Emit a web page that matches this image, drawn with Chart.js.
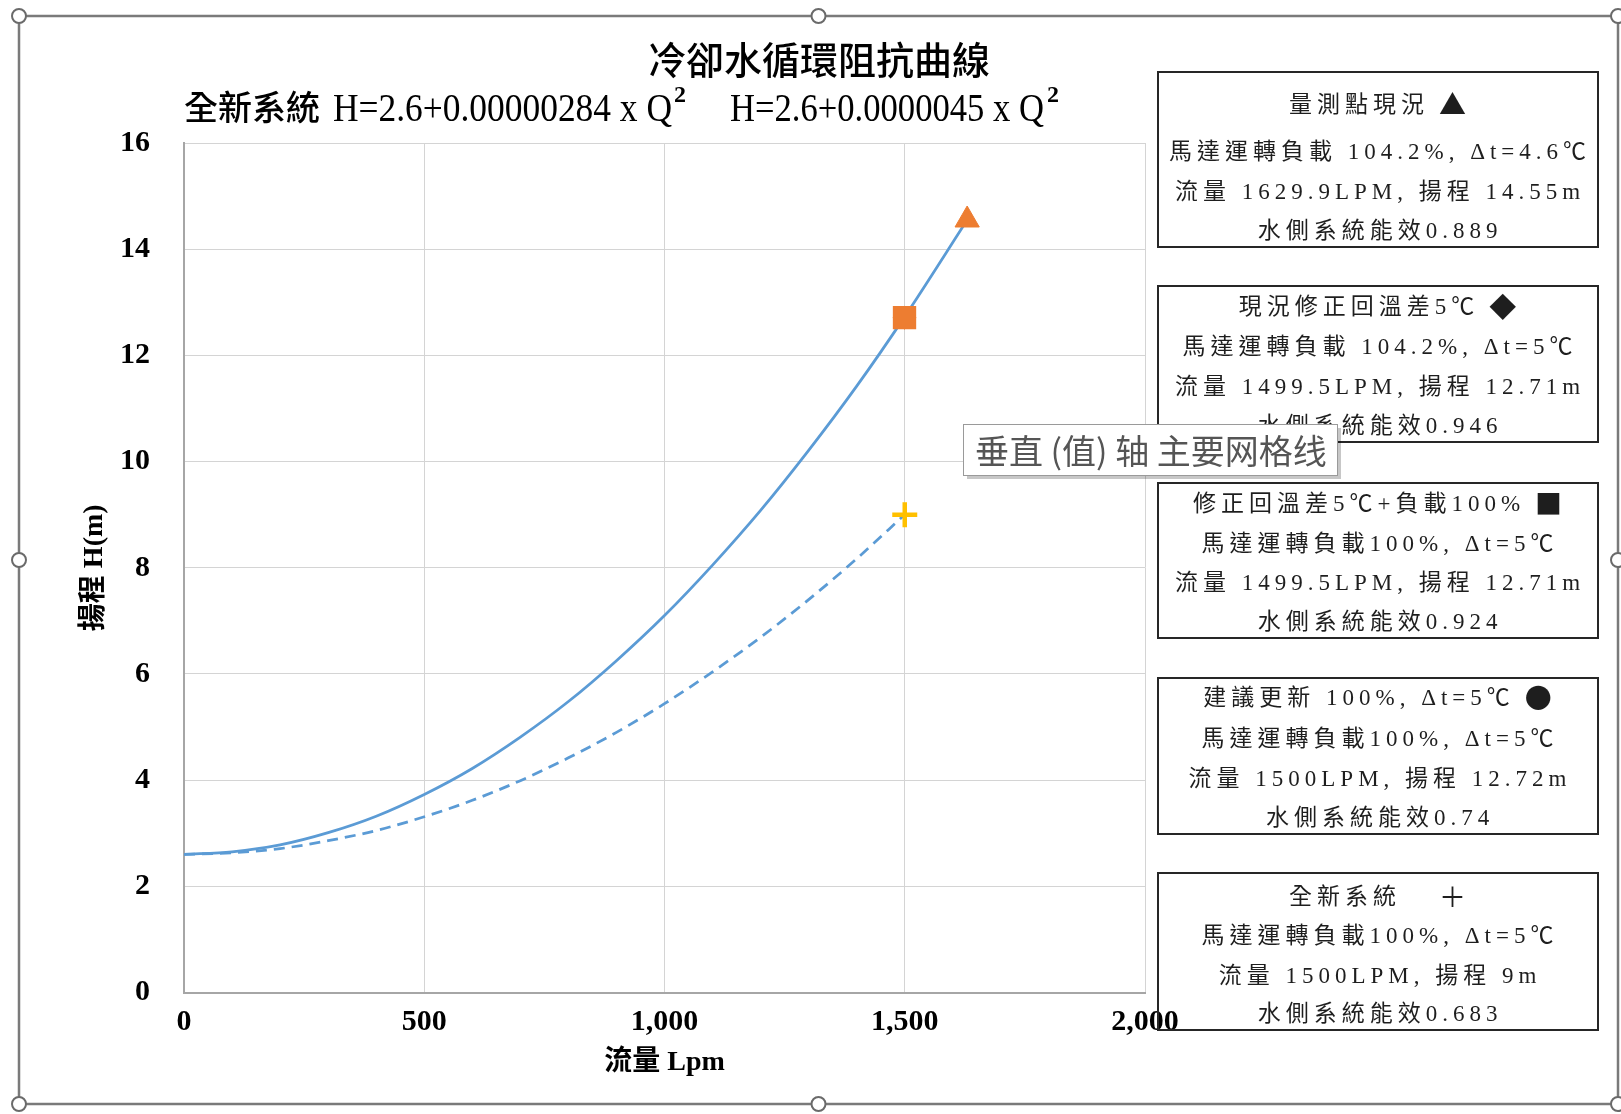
<!DOCTYPE html>
<html>
<head>
<meta charset="utf-8">
<title>冷卻水循環阻抗曲線</title>
<script src="https://cdn.jsdelivr.net/npm/chart.js@4/dist/chart.umd.min.js"></script>
<style>
  html, body { margin: 0; padding: 0; background: #ffffff; }
  #wrap { width: 1621px; height: 1114px; position: relative; }
</style>
</head>
<body>
<div id="wrap"><canvas id="c" width="1621" height="1114"></canvas></div>
<script>
// Existing system curve: H = 2.6 + 0.0000045 x Q^2 (solid)
const flowSolid = [0, 100, 200, 300, 400, 500, 600, 700, 800, 900, 1000, 1100, 1200, 1300, 1400, 1500, 1629.9];
const headSolid = [2.60, 2.65, 2.78, 3.01, 3.32, 3.73, 4.22, 4.81, 5.48, 6.25, 7.10, 8.05, 9.08, 10.21, 11.42, 12.73, 14.55];

// New system curve: H = 2.6 + 0.00000284 x Q^2 (dashed)
const flowDashed = [0, 100, 200, 300, 400, 500, 600, 700, 800, 900, 1000, 1100, 1200, 1300, 1400, 1500];
const headDashed = [2.60, 2.63, 2.71, 2.86, 3.05, 3.31, 3.62, 3.99, 4.42, 4.90, 5.44, 6.04, 6.69, 7.40, 8.17, 9.00];

// Operating points
const markerFlow = [1629.9, 1499.5, 1499.5, 1500, 1500];
const markerHead = [14.55, 12.71, 12.71, 12.72, 9];

// Axis ticks
const xTicks = [0, 500, 1000, 1500, 2000];
const yTicks = [0, 2, 4, 6, 8, 10, 12, 14, 16];

// Annotation boxes
const boxTitles = ['量測點現況', '現況修正回溫差5℃', '修正回溫差5℃+負載100%', '建議更新 100%, Δt=5℃', '全新系統　'];
const boxSymbols = ['▲', '◆', '■', '●', '＋'];
const boxLoad = ['馬達運轉負載 104.2%, Δt=4.6℃', '馬達運轉負載 104.2%, Δt=5℃', '馬達運轉負載100%, Δt=5℃', '馬達運轉負載100%, Δt=5℃', '馬達運轉負載100%, Δt=5℃'];
const boxFlowHead = ['流量 1629.9LPM, 揚程 14.55m', '流量 1499.5LPM, 揚程 12.71m', '流量 1499.5LPM, 揚程 12.71m', '流量 1500LPM, 揚程 12.72m', '流量 1500LPM, 揚程 9m'];
const boxEff = ['水側系統能效0.889', '水側系統能效0.946', '水側系統能效0.924', '水側系統能效0.74', '水側系統能效0.683'];

const BLUE = '#5B9BD5';
const ORANGE = '#ED7D31';
const GOLD = '#FFC000';

const toXY = (xs, ys) => xs.map((x, i) => ({ x: x, y: ys[i] }));
const onePoint = (i) => [{ x: markerFlow[i], y: markerHead[i] }];

// Frame, title, formulas, annotation boxes
const decorations = {
  id: 'decorations',
  afterDraw(chart) {
    const ctx = chart.ctx;
    ctx.save();

    // title
    ctx.fillStyle = '#000';
    ctx.textAlign = 'center';
    ctx.textBaseline = 'middle';
    ctx.font = '500 38px "Noto Sans CJK TC"';
    ctx.fillText('冷卻水循環阻抗曲線', 819, 60, 346);

    // formulas line
    ctx.textAlign = 'left';
    ctx.textBaseline = 'alphabetic';
    ctx.font = '500 34px "Noto Sans CJK TC"';
    ctx.fillText('全新系統', 184, 120, 139);
    ctx.font = '40px "Liberation Serif"';
    ctx.fillText('H=2.6+0.00000284 x Q', 333, 121, 339);
    ctx.fillText('H=2.6+0.0000045 x Q', 730, 121, 314);
    ctx.font = 'bold 24px "Liberation Serif"';
    ctx.fillText('2', 674, 102);
    ctx.fillText('2', 1047, 102);

    // annotation boxes
    const boxes = [
      { top: 72, bottom: 247, rows: [106, 153, 193, 232] },
      { top: 286, bottom: 442, rows: [308, 348, 388, 427] },
      { top: 483, bottom: 638, rows: [505, 545, 584, 623] },
      { top: 678, bottom: 834, rows: [699, 740, 780, 819] },
      { top: 873, bottom: 1030, rows: [898, 937, 977, 1015] }
    ];
    const bl = 1158, br = 1598, bc = (bl + br) / 2;
    const textFont = '23px "Liberation Serif", "Noto Sans CJK TC"';
    const symFont = '27px "Noto Sans CJK TC"';
    ctx.strokeStyle = '#262626';
    ctx.lineWidth = 2;
    ctx.fillStyle = '#1e1e1e';
    ctx.textBaseline = 'middle';
    ctx.letterSpacing = '5px';
    boxes.forEach((b, i) => {
      ctx.strokeRect(bl, b.top, br - bl, b.bottom - b.top);
      // heading with its marker symbol
      ctx.font = textFont;
      const tw = ctx.measureText(boxTitles[i]).width;
      ctx.font = symFont;
      const sw = ctx.measureText(boxSymbols[i]).width;
      const gap = 10;
      const start = bc + 2 - (tw + gap + sw) / 2;
      ctx.textAlign = 'left';
      ctx.font = textFont;
      ctx.fillText(boxTitles[i], start, b.rows[0]);
      ctx.font = symFont;
      ctx.fillText(boxSymbols[i], start + tw + gap, b.rows[0] - 1);
      // remaining rows
      ctx.textAlign = 'center';
      ctx.font = textFont;
      [boxLoad[i], boxFlowHead[i], boxEff[i]].forEach((t, k) => ctx.fillText(t, bc + 2, b.rows[k + 1], br - bl - 12));
    });
    ctx.letterSpacing = '0px';

    // hover label for the value-axis gridlines
    ctx.fillStyle = 'rgba(0,0,0,0.22)';
    ctx.fillRect(967, 428, 374, 51);
    ctx.fillStyle = '#ffffff';
    ctx.fillRect(963, 424, 374, 51);
    ctx.strokeStyle = '#9a9a9a';
    ctx.lineWidth = 1;
    ctx.strokeRect(963.5, 424.5, 374, 51);
    ctx.fillStyle = '#555555';
    ctx.textAlign = 'left';
    ctx.font = '34px "Noto Sans CJK SC"';
    ctx.fillText('垂直 (值) 轴 主要网格线', 975, 451, 352);

    // selection frame with handles
    const L = 19, T = 16, R = 1618, B = 1104;
    ctx.strokeStyle = '#7a7a7a';
    ctx.lineWidth = 2.5;
    ctx.strokeRect(L, T, R - L, B - T);
    const mx = (L + R) / 2, my = (T + B) / 2;
    [[L, T], [mx, T], [R, T], [L, my], [R, my], [L, B], [mx, B], [R, B]].forEach(([x, y]) => {
      ctx.beginPath();
      ctx.arc(x, y, 7, 0, Math.PI * 2);
      ctx.fillStyle = '#ffffff';
      ctx.fill();
      ctx.lineWidth = 2;
      ctx.strokeStyle = '#6a6a6a';
      ctx.stroke();
    });

    ctx.restore();
  }
};

new Chart(document.getElementById('c'), {
  type: 'scatter',
  data: {
    datasets: [
      { label: '量測點現況', data: onePoint(0), pointStyle: 'triangle', pointRadius: 14, backgroundColor: ORANGE, borderColor: ORANGE, borderWidth: 1, order: 0 },
      { label: '修正回溫差5℃+負載100%', data: onePoint(2), pointStyle: 'rect', pointRadius: 16.5, backgroundColor: ORANGE, borderColor: ORANGE, borderWidth: 0, order: 0 },
      { label: '建議更新', data: onePoint(3), pointStyle: 'circle', pointRadius: 10, backgroundColor: ORANGE, borderColor: ORANGE, borderWidth: 0, order: 1 },
      { label: '現況修正回溫差5℃', data: onePoint(1), pointStyle: 'rectRot', pointRadius: 12, backgroundColor: ORANGE, borderColor: ORANGE, borderWidth: 0, order: 2 },
      { label: '全新系統', data: onePoint(4), pointStyle: 'cross', pointRadius: 12.5, backgroundColor: GOLD, borderColor: GOLD, borderWidth: 4.5, order: 0 },
      { label: 'H=2.6+0.0000045Q²', data: toXY(flowSolid, headSolid), showLine: true, borderColor: BLUE, borderWidth: 2.75, pointRadius: 0, cubicInterpolationMode: 'monotone', order: 5 },
      { label: 'H=2.6+0.00000284Q²', data: toXY(flowDashed, headDashed), showLine: true, borderColor: BLUE, borderWidth: 2.75, borderDash: [11, 7], pointRadius: 0, cubicInterpolationMode: 'monotone', order: 5 }
    ]
  },
  options: {
    responsive: false,
    animation: false,
    events: [],
    layout: { padding: { left: 0, right: 476, top: 143, bottom: 0 } },
    plugins: { legend: { display: false }, tooltip: { enabled: false } },
    scales: {
      x: {
        type: 'linear',
        min: xTicks[0],
        max: xTicks[xTicks.length - 1],
        afterBuildTicks: (s) => { s.ticks = xTicks.map(v => ({ value: v })); },
        afterFit: (s) => { s.height = 121.5; },
        grid: { color: '#d4d4d4', lineWidth: 1, drawTicks: false },
        border: { color: '#a6a6a6', width: 2 },
        ticks: { padding: 12, color: '#000', font: { family: 'Liberation Serif', size: 30, weight: 'bold' } },
        title: { display: true, text: '流量 Lpm', color: '#000', padding: { top: 0, bottom: 34 }, font: { family: '"Liberation Serif", "Noto Sans CJK TC"', size: 28, weight: 'bold' } }
      },
      y: {
        type: 'linear',
        min: yTicks[0],
        max: yTicks[yTicks.length - 1],
        afterBuildTicks: (s) => { s.ticks = yTicks.map(v => ({ value: v })); },
        afterFit: (s) => { s.width = 184; },
        grid: { color: '#d4d4d4', lineWidth: 1, drawTicks: false },
        border: { color: '#a6a6a6', width: 2 },
        ticks: { padding: 34, color: '#000', font: { family: 'Liberation Serif', size: 30, weight: 'bold' } },
        title: { display: true, text: '揚程 H(m)', color: '#000', padding: { top: 78, bottom: 0 }, font: { family: '"Liberation Serif", "Noto Sans CJK TC"', size: 28, weight: 'bold' } }
      }
    }
  },
  plugins: [decorations]
});
</script>
</body>
</html>
